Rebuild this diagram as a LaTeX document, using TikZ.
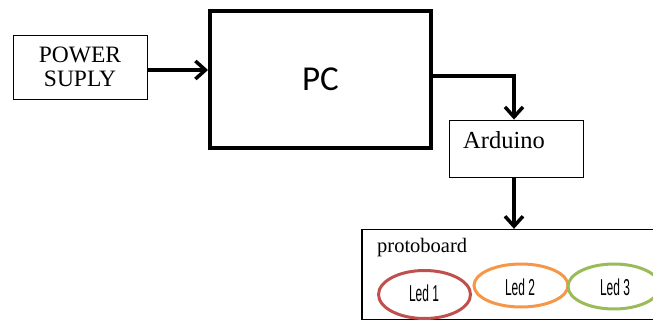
\documentclass[tikz,border=0pt]{standalone}
\usepackage{fontspec}
\setmainfont{Liberation Serif}
\newfontfamily\pcfont{Carlito}
\newfontfamily\ledfont[FakeStretch=0.52]{Liberation Sans}
\usetikzlibrary{arrows.meta}

\definecolor{ledred}{HTML}{C0504D}
\definecolor{ledorange}{HTML}{F79646}
\definecolor{ledgreen}{HTML}{9BBB59}

\begin{document}
\begin{tikzpicture}[x=1pt,y=-1pt,
  box/.style={draw,line width=0.9pt,inner sep=0pt},
  bigbox/.style={draw,line width=4pt,inner sep=0pt},
  link/.style={line width=3.5pt,-{Straight Barb[length=10pt,width=18pt]}},
  ledtext/.style={inner sep=0pt,font=\ledfont\fontsize{23}{24}\selectfont}]
\useasboundingbox (0,0) rectangle (653,321);

\node[box,minimum width=134pt,minimum height=64pt,align=center,
  font=\fontsize{23.5}{24}\selectfont] (ps) at (80,67) {POWER\\SUPLY};
\node[bigbox,minimum width=221pt,minimum height=137pt,
  font=\pcfont\fontsize{35}{36}\selectfont] (pc) at (320.5,79.5) {PC};
\node[box,minimum width=134pt,minimum height=57pt] (ard) at (516,148.5) {};
\node[anchor=base west,inner sep=0pt,font=\fontsize{24.5}{26}\selectfont] (ardtext) at (463,148) {Arduino};
\node[box,line width=1.3pt,minimum width=338pt,minimum height=90pt] (board) at (531,274.5) {};
\node[anchor=base west,inner sep=0pt,font=\fontsize{20.5}{22}\selectfont] (boardtext) at (377,252) {protoboard};

% leds on the protoboard
\draw[ledred,line width=3pt] (424.5,294.5) ellipse (46pt and 24pt);
\draw[ledorange,line width=3pt] (521,285.5) ellipse (47pt and 21.5pt);
\draw[ledgreen,line width=3pt] (614,286.5) ellipse (46pt and 22.5pt);
\node[ledtext] (led1) at (424,293) {Led 1};
\node[ledtext] (led2) at (520,287.5) {Led 2};
\node[ledtext] (led3) at (615,287) {Led 3};

\draw[link] ([yshift=-3pt]ps.east) -- ([yshift=-3pt]ps.east -| pc.west);
\draw[link] ([yshift=3.5pt]pc.east) -| ([xshift=-2pt]ard.north);
\draw[link] ([xshift=-2pt]ard.south) -- ([xshift=-2pt]ard.south |- board.north);
\end{tikzpicture}
\end{document}
